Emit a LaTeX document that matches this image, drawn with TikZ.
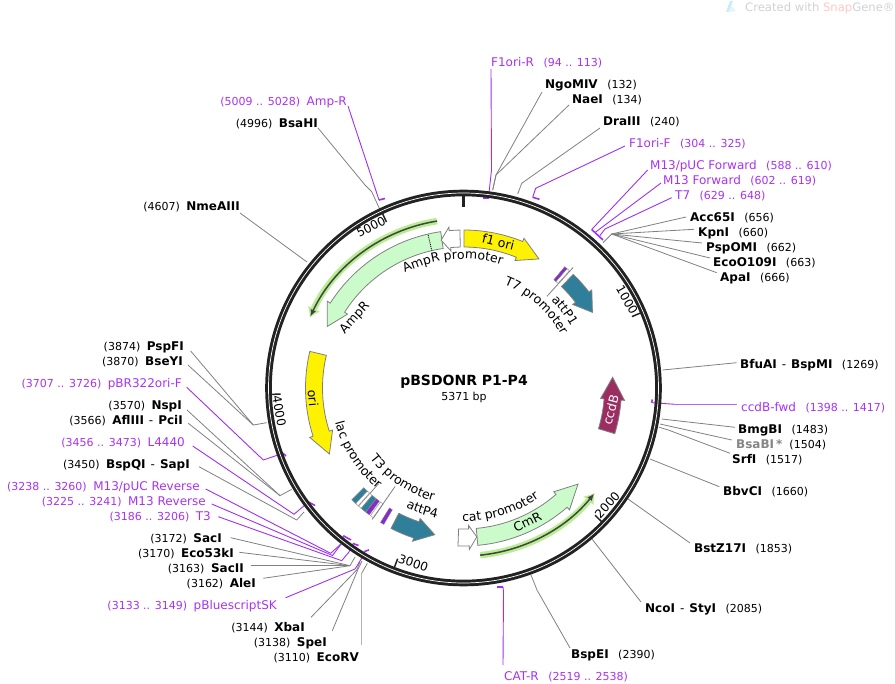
\documentclass[tikz,border=0pt]{standalone}
\usepackage{fontspec}
\setmainfont{DejaVu Sans}
\usetikzlibrary{decorations.text,arrows.meta}
\definecolor{primcol}{HTML}{A832F0}
\definecolor{primline}{HTML}{A030F0}
\definecolor{cutcol}{HTML}{808080}
\definecolor{ringcol}{HTML}{222222}
\definecolor{pale}{HTML}{CCFBCB}
\definecolor{tealc}{HTML}{2F7F9A}
\definecolor{ccdc}{HTML}{9B2D62}
\definecolor{glow}{HTML}{B8EE92}
\newcommand\numf{\fontsize{11}{11}\selectfont}
\tikzset{
 labbase/.style={inner xsep=4pt,inner ysep=0pt,text height=11pt,text depth=1.5pt,font=\fontsize{12}{14}\selectfont},
 labr/.style={labbase,anchor=west},
 labl/.style={labbase,anchor=east},
 cutw/.style={draw=cutcol,line width=0.8pt,line join=round},
 primw/.style={draw=primline,line width=0.9pt,line join=round},
 pmark/.style={draw=primline,line width=1.6pt},
 featbox/.style={draw=cutcol,line width=0.8pt,line join=miter},
 feattext/.style={font=\fontsize{12.5}{14}\selectfont,inner sep=0pt},
 ticklab/.style={font=\fontsize{12}{14}\selectfont,inner sep=0pt},
 tickw/.style={draw=ringcol,line width=1.5pt},
}
\newcommand\pnt[3]{\coordinate (#1) at (#2,{-#3});}
% enzyme labels
\newcommand\rlab[5]{\node[labr] (#1) at ({#2-4},{-#3}) {\textbf{#4}\hspace{9.5pt}{\numf #5}};}
\newcommand\llab[5]{\node[labl] (#1) at ({#2+4},{-#3}) {{\numf #5}\hspace{6.5pt}\textbf{#4}};}
% primer labels
\newcommand\rprim[5]{\node[labr,text=primcol] (#1) at ({#2-4},{-#3}) {#4\hspace{9.5pt}{\numf #5}};}
\newcommand\lprim[5]{\node[labl,text=primcol] (#1) at ({#2+4},{-#3}) {{\numf #5}\hspace{6.5pt}#4};}
% feature arrow: start, shoulder, tip (clock degrees), fill
\newcommand\featarrow[4]{\draw[featbox,fill=#4] ({90-(#1)}:158) arc[start angle={90-(#1)},end angle={90-(#2)},radius=158pt] -- ({90-(#2)}:161.5) -- ({90-(#3)}:149.5) -- ({90-(#2)}:137.5) -- ({90-(#2)}:141) arc[start angle={90-(#2)},end angle={90-(#1)},radius=141pt] -- cycle;}
% narrow radial band: clock, half angle, fill
\newcommand\band[3]{\draw[draw=ringcol!55,line width=0.4pt,fill=#3] ({90-(#1)+(#2)}:141) -- ({90-(#1)+(#2)}:158) -- ({90-(#1)-(#2)}:158) -- ({90-(#1)-(#2)}:141) -- cycle;}
% text on an arc: clock start, clock end, radius, text
\newcommand\arctext[4]{\path[decorate,decoration={text along path,text align=center,text={|\fontsize{12.5}{14}\selectfont|#4}}] ({90-(#1)}:#3) arc[start angle={90-(#1)},end angle={90-(#2)},radius=#3pt];}
\begin{document}
\begin{tikzpicture}[x=1pt,y=1pt]
\useasboundingbox (0,0) rectangle (895,-684);
% watermark
\fill[cyan!22] (726,-12) -- (730,-1) -- (733,-1) -- (729,-12) -- cycle;
\fill[cyan!12] (731,-6) -- (736,-11) -- (730,-12) -- cycle;
\node[anchor=west,inner sep=0pt,font=\fontsize{11.6}{13}\selectfont] (wm) at (745,-8) {\textcolor{black!18}{Created with }\textcolor{red!22}{Snap}\textcolor{black!18}{Gene®}};
% labels, right side
\rprim{fr}{491}{62}{F1ori-R}{(94 .. 113)}
\rlab{ngo}{545}{84}{NgoMIV}{(132)}
\rlab{nae}{572}{99}{NaeI}{(134)}
\rlab{dra}{603}{121}{DraIII}{(240)}
\rprim{ff}{629}{143}{F1ori-F}{(304 .. 325)}
\rprim{muf}{650}{165}{M13/pUC Forward}{(588 .. 610)}
\rprim{mf}{663}{180}{M13 Forward}{(602 .. 619)}
\rprim{tseven}{675}{195}{T7}{(629 .. 648)}
\rlab{acc}{690}{217}{Acc65I}{(656)}
\rlab{kpn}{698}{232}{KpnI}{(660)}
\rlab{psp}{706}{247}{PspOMI}{(662)}
\rlab{eco}{713}{262}{EcoO109I}{(663)}
\rlab{apa}{720}{277}{ApaI}{(666)}
\node[labr] (bfu) at (736,-364) {\textbf{BfuAI}\hspace{5pt}-\hspace{5pt}\textbf{BspMI}\hspace{9.5pt}{\numf (1269)}};
\rprim{cfw}{741}{407}{ccdB-fwd}{(1398 .. 1417)}
\rlab{bmg}{738}{429}{BmgBI}{(1483)}
\node[labr] (bsa) at (732,-444) {\textcolor{black!48}{\textbf{BsaBI\,*}}\hspace{7pt}{\numf (1504)}};
\rlab{srf}{732}{459}{SrfI}{(1517)}
\rlab{bbv}{723}{491}{BbvCI}{(1660)}
\rlab{bst}{694}{548}{BstZ17I}{(1853)}
\node[labr] (nco) at (641,-608) {\textbf{NcoI}\hspace{5pt}-\hspace{5pt}\textbf{StyI}\hspace{9.5pt}{\numf (2085)}};
\rlab{bsp}{571}{654}{BspEI}{(2390)}
\rprim{catr}{504}{676}{CAT-R}{(2519 .. 2538)}
% labels, left side
\lprim{ampr}{347}{101}{Amp-R}{(5009 .. 5028)}
\llab{bsh}{318}{123}{BsaHI}{(4996)}
\llab{nme}{240}{206}{NmeAIII}{(4607)}
\llab{pspf}{184}{346}{PspFI}{(3874)}
\llab{bse}{183}{361}{BseYI}{(3870)}
\lprim{pbr}{182}{383}{pBR322ori-F}{(3707 .. 3726)}
\llab{nsp}{182}{405}{NspI}{(3570)}
\node[labl] (afl) at (187,-420) {{\numf (3566)}\hspace{6.5pt}\textbf{AflIII}\hspace{5pt}-\hspace{5pt}\textbf{PciI}};
\lprim{lff}{185}{442}{L4440}{(3456 .. 3473)}
\node[labl] (bspq) at (194,-464) {{\numf (3450)}\hspace{6.5pt}\textbf{BspQI}\hspace{5pt}-\hspace{5pt}\textbf{SapI}};
\lprim{mur}{200}{486}{M13/pUC Reverse}{(3238 .. 3260)}
\lprim{mr}{206}{501}{M13 Reverse}{(3225 .. 3241)}
\lprim{tthree}{211}{516}{T3}{(3186 .. 3206)}
\llab{sac}{222}{538}{SacI}{(3172)}
\llab{esk}{234}{553}{Eco53kI}{(3170)}
\llab{sacii}{244}{568}{SacII}{(3163)}
\llab{ale}{256}{583}{AleI}{(3162)}
\lprim{pbl}{277}{605}{pBluescriptSK}{(3133 .. 3149)}
\llab{xba}{305}{627}{XbaI}{(3144)}
\llab{spe}{327}{642}{SpeI}{(3138)}
\llab{erv}{359}{657}{EcoRV}{(3110)}
% connector waypoints
\pnt{kNgo}{496}{175}\pnt{rNgo}{492.7}{190}
\pnt{kDra}{521.7}{183.3}\pnt{rDra}{517.7}{194}
\pnt{kFr}{491.5}{170}\pnt{eFr}{489}{193}\pnt{mFr}{488.5}{198}\pnt{mFr2}{483}{198}
\pnt{kFf}{535.7}{188.3}\pnt{eFf}{532.7}{197.3}\pnt{mFf}{539.5}{199.3}
\pnt{eMuf}{591.7}{229.5}\pnt{eMf}{595}{232.5}\pnt{kT}{605}{229}\pnt{eT}{600}{235.5}\pnt{mT}{603}{240}
\pnt{kA}{611.7}{234}\pnt{rA}{603}{242.7}
\pnt{rBfu}{662.7}{370}
\pnt{kC}{675}{404.3}\pnt{eC}{651.7}{402.7}\pnt{mC}{652.3}{399.5}
\pnt{rBmg}{661.7}{419}\pnt{rBsa}{660}{424}\pnt{kSrf}{668.3}{430}\pnt{rSrf}{659.3}{427.3}
\pnt{rBbv}{650}{459}\pnt{rBst}{628}{499}\pnt{rNco}{592}{539}
\pnt{kBsp}{537}{590}\pnt{rBsp}{531}{575}
\pnt{kCat}{503.5}{592}\pnt{eCat}{503}{587}\pnt{mCat}{497}{587}
\pnt{eAmp}{379}{200}\pnt{mAmp}{385}{198.5}
\pnt{kBsh}{365}{185}\pnt{k2Bsh}{371.7}{191.7}\pnt{rBsh}{381}{212}
\pnt{rNme}{307}{262}
\pnt{kPsp}{253.3}{425}\pnt{rPsp}{266.7}{422.7}
\pnt{kPbr}{263.3}{460}\pnt{ePbr}{283}{453.3}\pnt{mPbr}{286}{456}
\pnt{kNsp}{280}{495.7}\pnt{rNsp}{291.7}{489.3}
\pnt{kL}{294}{514.3}\pnt{eL}{308.5}{502}\pnt{mL}{315}{505.5}
\pnt{kQ}{296.7}{520}\pnt{rQ}{304}{512}
\pnt{kMu}{330.7}{553.3}\pnt{kMr}{332.5}{555.5}\pnt{jM}{341.7}{543.3}\pnt{eM}{343.3}{535.7}\pnt{mM}{351}{540}
\pnt{kT3}{341.7}{560.7}\pnt{jT3}{349}{552}\pnt{eT3}{353}{543.5}\pnt{mT3}{358.5}{545.5}
\pnt{kSac}{350}{565.7}\pnt{rSac}{355}{557}
\pnt{kPbl}{355}{569}\pnt{jPbl}{361.7}{558.3}\pnt{ePbl}{364.3}{551.5}\pnt{mPbl}{369}{550}
\pnt{kXba}{356.7}{570}\pnt{rXba}{360}{562}
\pnt{kSpe}{358}{569.3}\pnt{rSpe}{362}{561}
\pnt{kErv}{361.7}{573.3}\pnt{rErv}{367.3}{563.3}
% enzyme connectors
\draw[cutw] ([shift={(1,-8)}]ngo.west) -- (kNgo) -- (rNgo);
\draw[cutw] ([shift={(1,-6)}]nae.west) -- (kNgo) -- (rNgo);
\draw[cutw] ([shift={(1,-7)}]dra.west) -- (kDra) -- (rDra);
\draw[cutw] (acc.west) -- (kA) -- (rA);
\draw[cutw] ([shift={(0,2.7)}]kpn.west) -- (kA);
\draw[cutw] ([shift={(0,4)}]psp.west) -- (kA);
\draw[cutw] ([shift={(1,4)}]eco.west) -- (kA);
\draw[cutw] ([shift={(0.7,4.3)}]apa.west) -- (kA);
\draw[cutw] ([shift={(0.7,1.3)}]bfu.west) -- (rBfu);
\draw[cutw] ([shift={(1,1.7)}]bmg.west) -- (rBmg);
\draw[cutw] ([shift={(-0.3,4)}]bsa.west) -- (rBsa);
\draw[cutw] ([shift={(2,5.7)}]srf.west) -- (kSrf) -- (rSrf);
\draw[cutw] ([shift={(0.3,4.3)}]bbv.west) -- (rBbv);
\draw[cutw] ([shift={(0,5)}]bst.west) -- (rBst);
\draw[cutw] ([shift={(0,6)}]nco.west) -- (rNco);
\draw[cutw] ([shift={(3,6)}]bsp.west) -- (kBsp) -- (rBsp);
\draw[cutw] ([shift={(-4,-5)}]bsh.east) -- (kBsh) -- (k2Bsh) -- (rBsh);
\draw[cutw] ([shift={(-4,-7)}]nme.east) -- (rNme);
\draw[cutw] ([shift={(2.7,-5)}]pspf.east) -- (kPsp) -- (rPsp);
\draw[cutw] ([shift={(1,-4)}]bse.east) -- (kPsp);
\draw[cutw] ([shift={(1,-5)}]nsp.east) -- (kNsp) -- (rNsp);
\draw[cutw] ([shift={(1.3,-3.3)}]afl.east) -- (kNsp);
\draw[cutw] ([shift={(5,-2.7)}]bspq.east) -- (kQ) -- (rQ);
\draw[cutw] ([shift={(4.7,0.3)}]sac.east) -- (kSac) -- (rSac);
\draw[cutw] ([shift={(1.3,0.7)}]esk.east) -- (kSac);
\draw[cutw] ([shift={(2.7,2.3)}]sacii.east) -- (kSac);
\draw[cutw] ([shift={(3.3,4.7)}]ale.east) -- (kSac);
\draw[cutw] ([shift={(2,9.7)}]xba.east) -- (kXba) -- (rXba);
\draw[cutw] ([shift={(1.3,11.3)}]spe.east) -- (kSpe) -- (rSpe);
\draw[cutw,draw=cutcol!60,line width=1.3pt] ([shift={(-1.3,12)}]erv.east) -- (kErv);
\draw[cutw] (kErv) -- (rErv);
% primer connectors
\draw[primw] ([shift={(4,-7)}]fr.west) -- (kFr) -- (eFr) -- (mFr);
\draw[primw] ([shift={(0,-3)}]ff.west) -- (kFf) -- (eFf);
\draw[primw] ([shift={(1.7,-5)}]muf.west) -- (eMuf);
\draw[primw] ([shift={(2,-3)}]mf.west) -- (eMf);
\draw[primw] ([shift={(0.7,-2.7)}]tseven.west) -- (kT) -- (eT);
\draw[primw,line width=1.3pt,draw=primline!75] ([shift={(-0.3,2.7)}]cfw.west) -- (kC);
\draw[primw] (kC) -- (eC);
\draw[primw] ([shift={(-3,-5)}]ampr.east) -- (eAmp);
\draw[primw] ([shift={(0.7,-4.3)}]pbr.east) -- (kPbr) -- (ePbr);
\draw[primw] ([shift={(3.7,-4)}]lff.east) -- (kL) -- (eL);
\draw[primw] ([shift={(1.7,-3)}]mur.east) -- (kMu) -- (jM) -- (eM);
\draw[primw] ([shift={(1.7,-3)}]mr.east) -- (kMr) -- (jM);
\draw[primw] ([shift={(3.3,-0.7)}]tthree.east) -- (kT3) -- (jT3) -- (eT3);
\draw[primw] ([shift={(4.7,7.3)}]pbl.east) -- (kPbl) -- (jPbl) -- (ePbl);
\draw[primw] ([shift={(3,11)}]catr.west) -- (kCat) -- (eCat);
% primer marks
\draw[pmark] (mFr) -- (mFr2);
\draw[pmark] (eFf) -- (mFf);
\draw[pmark] (eMuf) -- (mT);
\draw[pmark] (eC) -- (mC);
\draw[pmark] (eCat) -- (mCat);
\draw[pmark] (eAmp) -- (mAmp);
\draw[pmark] (ePbr) -- (mPbr);
\draw[pmark] (eL) -- (mL);
\draw[pmark] (eM) -- (mM);
\draw[pmark] (eT3) -- (mT3);
\draw[pmark] (ePbl) -- (mPbl);
\begin{scope}[shift={(463.5,-388)}]
% backbone
\draw[draw=ringcol,line width=6.6pt] (0,0) circle (195pt);
\draw[draw=white,line width=0.7pt] (0,0) circle (195pt);
% ticks
\draw[draw=ringcol,line width=3pt] (90:194) -- (90:181);
\foreach \ta in {67.03,134.05,201.08,268.1,335.1}{\draw[tickw] ({90-\ta}:193) -- ({90-\ta}:183);}
% ORF arcs
\draw[draw=glow,line width=6.5pt,-{Latex[length=10pt,width=14pt]}] ({90+9}:169) arc[start angle={90+9},end angle={90+65.5},radius=169pt];
\draw[draw=ringcol!85,line width=1.5pt,-{Latex[length=7pt,width=6pt]}] ({90+9}:169) arc[start angle={90+9},end angle={90+65},radius=169pt];
\draw[draw=glow,line width=6.5pt,-{Latex[length=10pt,width=14pt]}] ({90-174.3}:168) arc[start angle={90-174.3},end angle={90-128.6},radius=168pt];
\draw[draw=ringcol!85,line width=1.5pt,-{Latex[length=7pt,width=6pt]}] ({90-174.3}:168) arc[start angle={90-174.3},end angle={90-129},radius=168pt];
% features
\featarrow{-8.3}{-57.5}{-65.7}{pale}
\draw[densely dotted,line width=0.9pt] ({90+13}:141) -- ({90+13}:158);
\featarrow{-1.3}{-5.2}{-8.6}{white}
\featarrow{0.2}{22}{30.3}{yellow}
\featarrow{-76.6}{-107.8}{-116.2}{yellow}
\featarrow{44}{52.6}{59.6}{tealc}
\featarrow{106.8}{94.4}{85.9}{ccdc}
\featarrow{174.8}{139}{130}{pale}
\featarrow{182}{177.9}{174.9}{white}
\featarrow{207.3}{198.4}{191.1}{tealc}
% narrow features, T7 side
\draw[cutw] ({90-42.3}:124) -- ({90-42.3}:163);
\band{41.5}{0.6}{white}
\band{40.4}{0.55}{primline!85!black}
% narrow features, T3 side
\band{224}{1.0}{tealc}
\draw[cutw] ({90-221.6}:128) -- ({90-221.6}:158);
\band{222.4}{0.6}{white}
\band{221}{0.6}{white}
\band{219.3}{1.0}{tealc}
\band{217.4}{0.8}{primline!85!black}
\band{215.4}{0.7}{white}
\draw[cutw] ({90-214.8}:120) -- ({90-214.8}:160);
\band{211}{0.7}{primline!85!black}
% feature labels on arcs
\arctext{-34.85}{25.15}{129}{AmpR promoter}
\arctext{5}{78}{111}{T7 promoter}
\arctext{25}{80}{124}{attP1}
\arctext{270}{205.4}{133}{lac promoter}
\arctext{250}{178}{117}{T3 promoter}
\arctext{225}{172.2}{133}{attP4}
\arctext{195}{131}{133.5}{cat promoter}
\end{scope}
% straight feature labels
\node[feattext,rotate=48] (fAmp) at (355,-318) {AmpR};
\node[feattext,rotate=-14] (fF1) at (498.3,-241.7) {f1 ori};
\node[feattext,rotate=-85] (fOri) at (313,-398) {ori};
\node[feattext,rotate=26] (fCm) at (527.3,-521.7) {CmR};
\node[feattext,rotate=75,text=white] (fCcd) at (610.7,-410) {ccdB};
% scale numbers
\node[ticklab,rotate=27] (n5) at (371,-227) {5000};
\node[ticklab,rotate=-60] (n1) at (627,-300) {1000};
\node[ticklab,rotate=48] (n2) at (607.3,-505) {2000};
\node[ticklab,rotate=-19] (n3) at (413.3,-563.3) {3000};
\node[ticklab,rotate=-80] (n4) at (279.3,-411) {4000};
% title
\node[inner sep=0pt,font=\bfseries\fontsize{14}{15}\selectfont] (title) at (464,-381.5) {pBSDONR P1-P4};
\node[inner sep=0pt,font=\fontsize{11}{13}\selectfont] (size) at (464,-397) {5371 bp};
\end{tikzpicture}
\end{document}
